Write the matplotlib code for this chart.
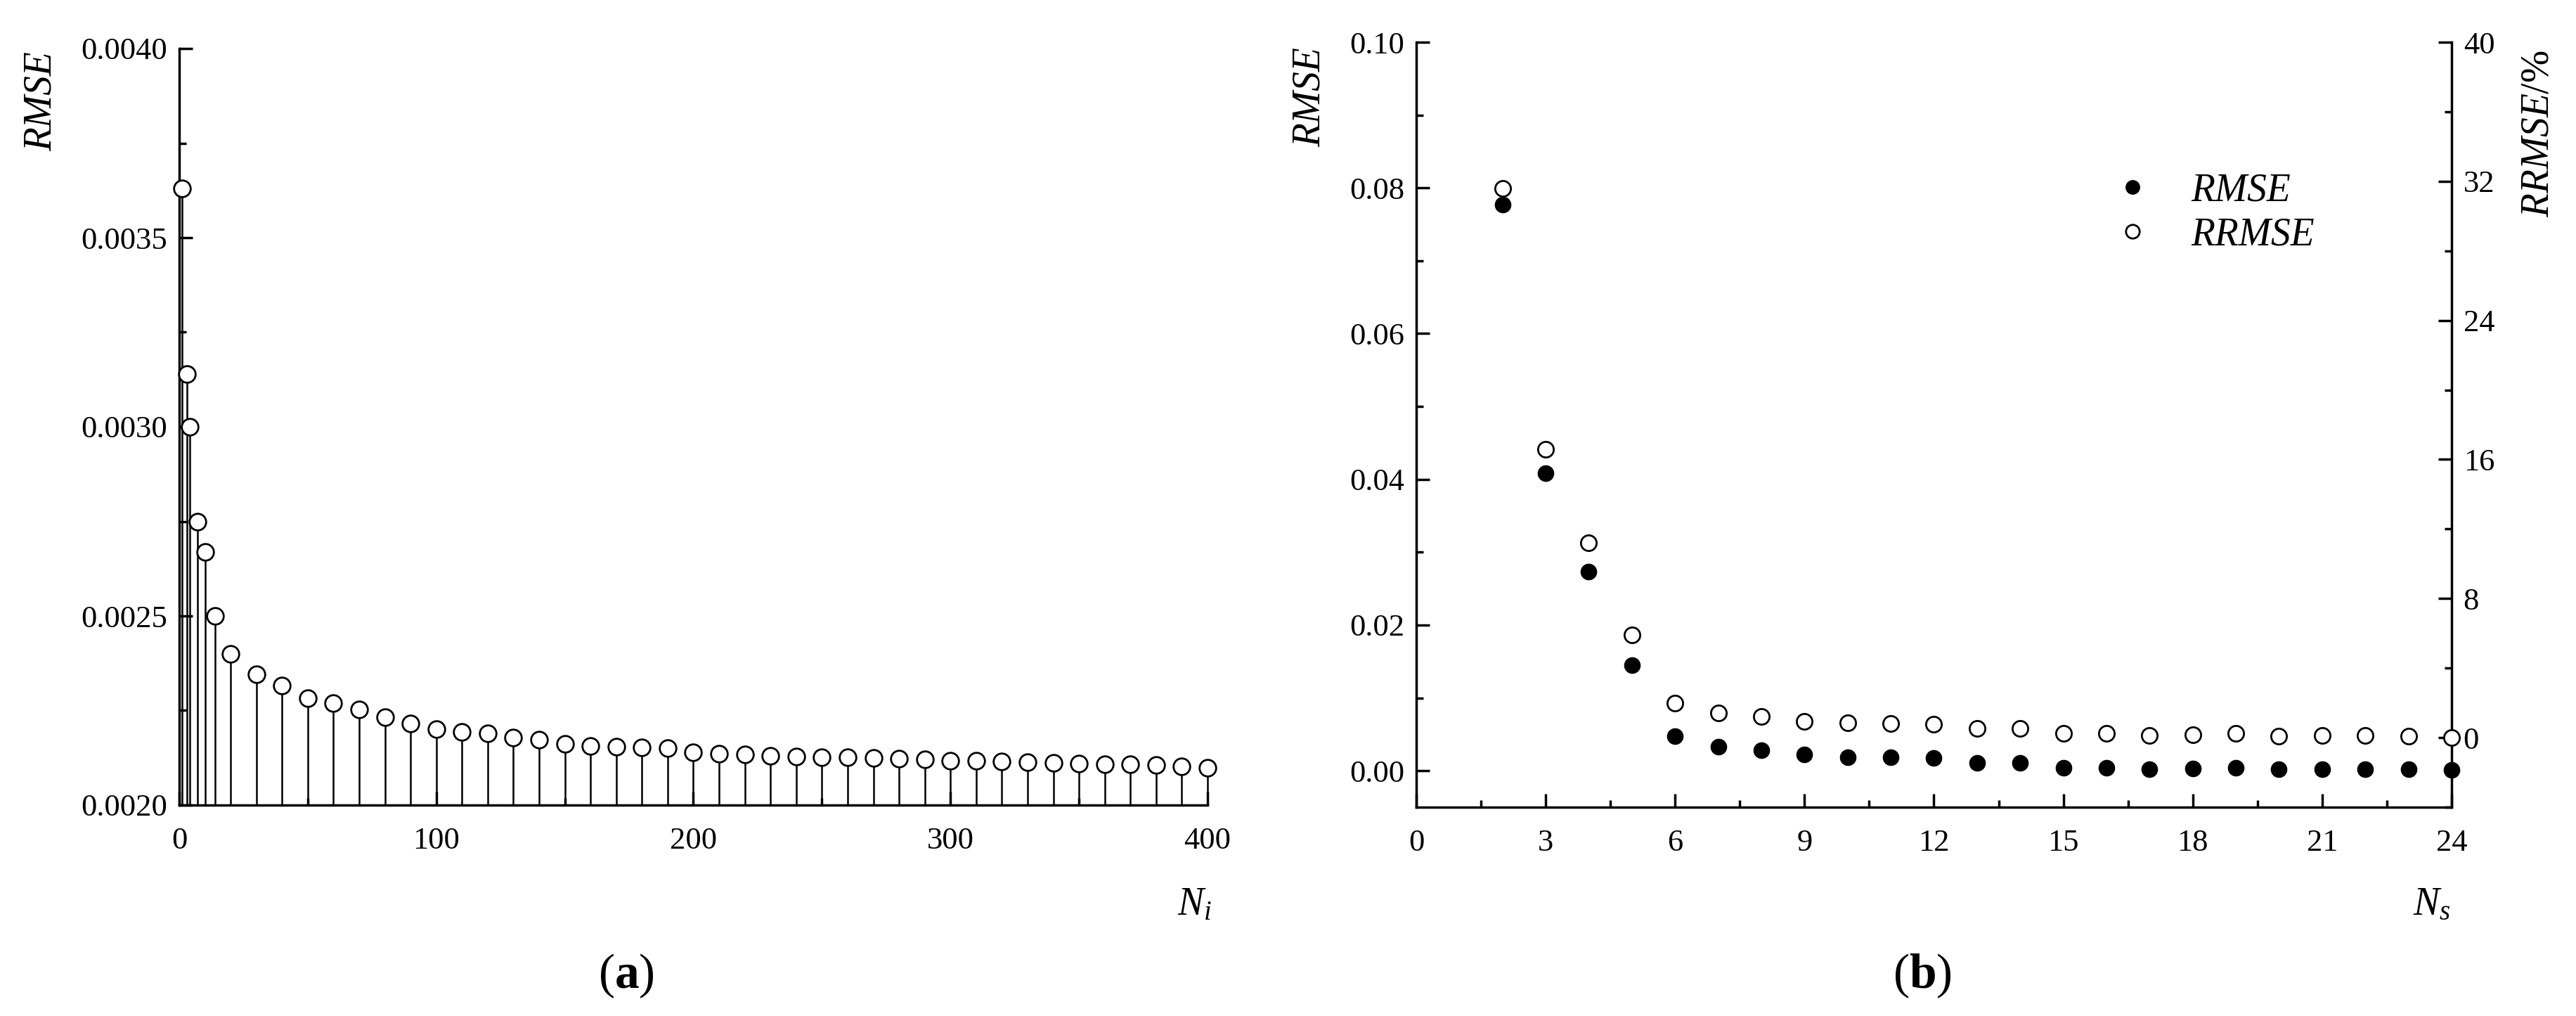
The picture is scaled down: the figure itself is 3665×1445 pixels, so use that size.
import matplotlib
matplotlib.use('Agg')
from matplotlib import pyplot as plt
from matplotlib.ticker import MultipleLocator
from matplotlib.lines import Line2D

plt.rcParams['font.family'] = ['Liberation Serif', 'DejaVu Serif']
plt.rcParams['mathtext.fontset'] = 'custom'
plt.rcParams['mathtext.rm'] = 'Liberation Serif'
plt.rcParams['mathtext.it'] = 'Liberation Serif:italic'
plt.rcParams['mathtext.bf'] = 'Liberation Serif:bold'

# (a) RMSE vs number of iterations
Ni = [1, 3, 4, 7, 10, 14, 20, 30, 40, 50, 60, 70, 80, 90, 100, 110, 120, 130, 140, 150,
      160, 170, 180, 190, 200, 210, 220, 230, 240, 250, 260, 270, 280, 290, 300,
      310, 320, 330, 340, 350, 360, 370, 380, 390, 400]
rmse_i = [0.00363, 0.00314, 0.00300, 0.00275, 0.00267, 0.00250, 0.00240, 0.002345, 0.002316,
          0.002283, 0.002270, 0.002252, 0.002233, 0.002215, 0.002201, 0.002193, 0.002189,
          0.002178, 0.002172, 0.002161, 0.002157, 0.002155, 0.002152, 0.002150, 0.002139,
          0.002136, 0.002133, 0.002130, 0.002128, 0.002127, 0.002126, 0.002124, 0.002122,
          0.002121, 0.002118, 0.002117, 0.002115, 0.002113, 0.002111, 0.002109, 0.002108,
          0.002107, 0.002106, 0.002103, 0.002098]

# (b) RMSE / RRMSE vs number of samples
Ns = [2, 3, 4, 5, 6, 7, 8, 9, 10, 11, 12, 13, 14, 15, 16, 17, 18, 19, 20, 21, 22, 23, 24]
rmse_s = [0.0777, 0.0408, 0.0273, 0.0145, 0.0047, 0.0033, 0.0028, 0.0022, 0.0019, 0.0019,
          0.0018, 0.0011, 0.0011, 0.0004, 0.0004, 0.0002, 0.0003, 0.0004, 0.0002, 0.0002,
          0.0002, 0.0002, 0.0001]
rrmse = [31.6, 16.6, 11.2, 5.9, 2.0, 1.4, 1.2, 0.93, 0.87, 0.83, 0.79, 0.52, 0.54, 0.23,
         0.26, 0.12, 0.16, 0.26, 0.10, 0.12, 0.12, 0.10, 0.0]

W, H = 3666, 1445
fig = plt.figure(figsize=(W / 100, H / 100), dpi=100)

tick_fs = 32
lab_fs = 40
spine_w = 2.5

def style(ax):
    for s in ax.spines.values():
        s.set_linewidth(spine_w)
    ax.tick_params(which='major', direction='in', length=14, width=spine_w, labelsize=tick_fs, pad=12)
    ax.tick_params(which='minor', direction='in', length=7, width=spine_w)

#-------------------------------------------------------------------------------------------------------
# left plot
ax1 = fig.add_axes([255 / W, 1 - 1145 / H, (1718 - 255) / W, (1145 - 69) / H])
ax1.vlines(Ni, 0.0020, rmse_i, color='black', linewidth=1.8, clip_on=False)
ax1.plot(Ni, rmse_i, 'o', ms=17, mfc='white', mec='black', mew=2.0, clip_on=False, zorder=3)
ax1.set_xlim(0, 400)
ax1.set_ylim(0.0020, 0.0040)
ax1.spines['top'].set_visible(False)
ax1.spines['right'].set_visible(False)
ax1.xaxis.set_major_locator(MultipleLocator(100))
ax1.xaxis.set_minor_locator(MultipleLocator(50))
ax1.yaxis.set_major_locator(MultipleLocator(0.0005))
ax1.yaxis.set_minor_locator(MultipleLocator(0.00025))
ax1.yaxis.set_major_formatter(matplotlib.ticker.FormatStrFormatter('%.4f'))
style(ax1)
ax1.tick_params(axis='x', pad=22)

#-------------------------------------------------------------------------------------------------------
# right plot
ax2 = fig.add_axes([2015 / W, 1 - 1148 / H, (3488 - 2015) / W, (1148 - 60) / H])
ax3 = ax2.twinx()
ax2.plot(Ns, rmse_s, 'o', ms=16, mfc='black', mec='black', clip_on=False, zorder=3)
ax3.plot(Ns, rrmse, 'o', ms=16, mfc='white', mec='black', mew=2.0, clip_on=False, zorder=3)
ax2.set_xlim(0, 24)
ax2.set_ylim(-0.005, 0.10)
ax3.set_ylim(-4, 40)
for a in (ax2, ax3):
    a.spines['top'].set_visible(False)
ax2.spines['right'].set_visible(False)
ax3.spines['left'].set_visible(False)
ax3.spines['bottom'].set_visible(False)
ax2.xaxis.set_major_locator(MultipleLocator(3))
ax2.xaxis.set_minor_locator(MultipleLocator(1.5))
ax2.yaxis.set_major_locator(MultipleLocator(0.02))
ax2.yaxis.set_minor_locator(MultipleLocator(0.01))
ax2.yaxis.set_major_formatter(matplotlib.ticker.FormatStrFormatter('%.2f'))
ax3.yaxis.set_major_locator(MultipleLocator(8))
ax3.yaxis.set_minor_locator(MultipleLocator(4))
style(ax2)
style(ax3)
ax2.tick_params(axis='x', pad=22)

handles = [Line2D([], [], ls='', marker='o', ms=14, mfc='black', mec='black'),
           Line2D([], [], ls='', marker='o', ms=14, mfc='white', mec='black', mew=2.0)]
ax3.legend(handles, ['RMSE', 'RRMSE'], loc='upper left', bbox_to_anchor=(2978 / W, 1 - 218 / H),
           bbox_transform=fig.transFigure, frameon=False, handlelength=1.0, handletextpad=1.0,
           labelspacing=0.2, borderpad=0, prop={'style': 'italic', 'size': lab_fs})

#-------------------------------------------------------------------------------------------------------
# labels
fig.text(59 / W, 1 - 144 / H, 'RMSE', rotation=90, ha='center', va='center', fontsize=lab_fs, style='italic')
fig.text(1864 / W, 1 - 138 / H, 'RMSE', rotation=90, ha='center', va='center', fontsize=lab_fs, style='italic')
fig.text(3612 / W, 1 - 190 / H, r'$RRMSE$/%', rotation=90, ha='center', va='center', fontsize=lab_fs)
fig.text(1700 / W, 1 - 1287 / H, r'$N_i$', ha='center', va='center', fontsize=lab_fs)
fig.text(3460 / W, 1 - 1287 / H, r'$N_s$', ha='center', va='center', fontsize=lab_fs)
fig.text(891 / W, 1 - 1388 / H, r'($\mathbf{a}$)', ha='center', va='center', fontsize=50)
fig.text(2735 / W, 1 - 1388 / H, r'($\mathbf{b}$)', ha='center', va='center', fontsize=50)

plt.savefig('out.png', dpi=100)
